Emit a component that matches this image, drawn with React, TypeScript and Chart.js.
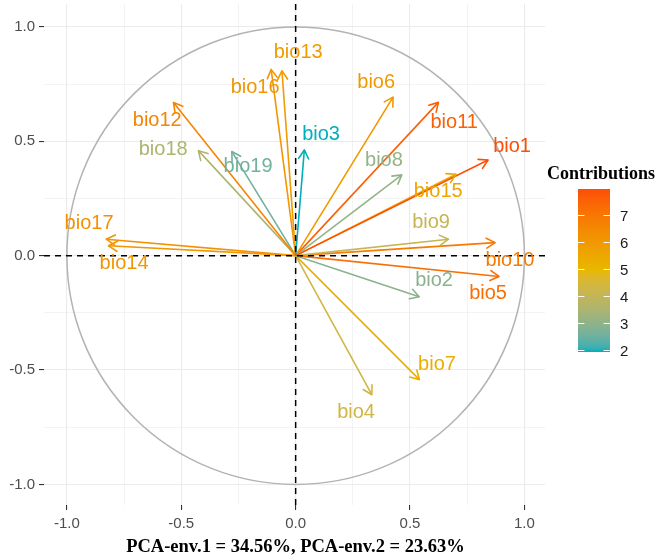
import React, { useEffect, useRef } from 'react';
import { Chart, registerables } from 'chart.js';

Chart.register(...registerables);

// ---------------- data ----------------
const variables = ['bio1', 'bio2', 'bio3', 'bio4', 'bio5', 'bio6', 'bio7', 'bio8', 'bio9', 'bio10',
  'bio11', 'bio12', 'bio13', 'bio14', 'bio15', 'bio16', 'bio17', 'bio18', 'bio19'];
const dim1 = [0.841, 0.540, 0.038, 0.333, 0.889, 0.426, 0.541, 0.464, 0.668, 0.872,
  0.624, -0.534, -0.060, -0.818, 0.701, -0.107, -0.828, -0.425, -0.279];
const dim2 = [0.418, -0.180, 0.462, -0.608, -0.091, 0.693, -0.542, 0.353, 0.072, 0.057,
  0.670, 0.669, 0.808, 0.043, 0.356, 0.814, 0.072, 0.459, 0.455];
const contrib = [7.98, 2.93, 1.94, 4.35, 7.22, 5.99, 5.31, 3.08, 4.08, 6.91,
  7.58, 6.63, 5.94, 6.07, 5.59, 6.10, 6.25, 3.54, 2.58];
// label anchor positions (repelled), in data units
const labelX = [0.946, 0.605, 0.111, 0.264, 0.841, 0.352, 0.618, 0.386, 0.592, 0.937,
  0.693, -0.605, 0.011, -0.750, 0.623, -0.177, -0.903, -0.579, -0.208];
const labelY = [0.479, -0.110, 0.528, -0.686, -0.167, 0.759, -0.476, 0.418, 0.143, -0.023,
  0.584, 0.589, 0.886, -0.036, 0.279, 0.733, 0.139, 0.466, 0.388];

const gridValues = [-1, -0.75, -0.5, -0.25, 0, 0.25, 0.5, 0.75, 1];
const majorTicks = [-1, -0.5, 0, 0.5, 1];
const legendTicks = [2, 3, 4, 5, 6, 7];
const contribMin = 1.94;
const contribMax = 7.98;
const gradientColors = ['#00AFBB', '#E7B800', '#FC4E07'];
const axisTitle = 'PCA-env.1 = 34.56%, PCA-env.2 = 23.63%';
const legendTitle = 'Contributions';

// ---------------- colour helpers (CIELAB interpolation like ggplot) ----------------
function hexToRgb(h: string): number[] {
  const n = parseInt(h.slice(1), 16);
  return [(n >> 16) & 255, (n >> 8) & 255, n & 255];
}
function toLin(c: number) { c /= 255; return c <= 0.04045 ? c / 12.92 : Math.pow((c + 0.055) / 1.055, 2.4); }
function fromLin(c: number) {
  const v = c <= 0.0031308 ? 12.92 * c : 1.055 * Math.pow(c, 1 / 2.4) - 0.055;
  return Math.max(0, Math.min(255, Math.round(v * 255)));
}
function rgbToLab(rgb: number[]): number[] {
  const [r, g, b] = rgb.map(toLin);
  const X = (0.4124 * r + 0.3576 * g + 0.1805 * b) / 0.95047;
  const Y = (0.2126 * r + 0.7152 * g + 0.0722 * b);
  const Z = (0.0193 * r + 0.1192 * g + 0.9505 * b) / 1.08883;
  const f = (t: number) => (t > 0.008856 ? Math.cbrt(t) : 7.787 * t + 16 / 116);
  const fx = f(X), fy = f(Y), fz = f(Z);
  return [116 * fy - 16, 500 * (fx - fy), 200 * (fy - fz)];
}
function labToRgb(lab: number[]): number[] {
  const [L, a, bb] = lab;
  const fy = (L + 16) / 116, fx = fy + a / 500, fz = fy - bb / 200;
  const fi = (t: number) => (t * t * t > 0.008856 ? t * t * t : (t - 16 / 116) / 7.787);
  const X = fi(fx) * 0.95047, Y = fi(fy), Z = fi(fz) * 1.08883;
  const r = 3.2406 * X - 1.5372 * Y - 0.4986 * Z;
  const g = -0.9689 * X + 1.8758 * Y + 0.0415 * Z;
  const b = 0.0557 * X - 0.2040 * Y + 1.0570 * Z;
  return [fromLin(r), fromLin(g), fromLin(b)];
}
const labStops = gradientColors.map((c) => rgbToLab(hexToRgb(c)));
function colorFor(v: number): string {
  let t = (v - contribMin) / (contribMax - contribMin);
  t = Math.max(0, Math.min(1, t));
  const seg = t < 0.5 ? 0 : 1;
  const lt = t < 0.5 ? t / 0.5 : (t - 0.5) / 0.5;
  const a = labStops[seg], b = labStops[seg + 1];
  const lab = [0, 1, 2].map((k) => a[k] + (b[k] - a[k]) * lt);
  const [r, g, bl] = labToRgb(lab);
  return `rgb(${r},${g},${bl})`;
}

const isMajor = (v: number) => majorTicks.some((m) => Math.abs(m - v) < 1e-9);

// ---------------- plugin ----------------
const decorPlugin = {
  id: 'pcaDecor',
  beforeDatasetsDraw(chart: any) {
    const { ctx, scales } = chart;
    const xs = scales.x, ys = scales.y;
    const cx = xs.getPixelForValue(0), cy = ys.getPixelForValue(0);
    const rx = xs.getPixelForValue(1) - cx, ry = cy - ys.getPixelForValue(1);
    ctx.save();
    ctx.beginPath();
    ctx.ellipse(cx, cy, rx, ry, 0, 0, Math.PI * 2);
    ctx.strokeStyle = '#B3B3B3';
    ctx.lineWidth = 1.5;
    ctx.stroke();
    ctx.restore();
  },
  afterDatasetsDraw(chart: any) {
    const { ctx, chartArea, scales } = chart;
    const xs = scales.x, ys = scales.y;
    const cx = xs.getPixelForValue(0), cy = ys.getPixelForValue(0);
    ctx.save();
    // arrowheads
    chart.data.datasets.forEach((ds: any, i: number) => {
      const px = xs.getPixelForValue(dim1[i]);
      const py = ys.getPixelForValue(dim2[i]);
      const ang = Math.atan2(py - cy, px - cx);
      const len = 10, a = Math.PI / 6;
      ctx.beginPath();
      ctx.moveTo(px - len * Math.cos(ang - a), py - len * Math.sin(ang - a));
      ctx.lineTo(px, py);
      ctx.lineTo(px - len * Math.cos(ang + a), py - len * Math.sin(ang + a));
      ctx.strokeStyle = ds.borderColor;
      ctx.lineWidth = 1.6;
      ctx.lineCap = 'round';
      ctx.lineJoin = 'round';
      ctx.stroke();
    });
    // dashed zero lines
    ctx.setLineDash([6, 5]);
    ctx.strokeStyle = '#000';
    ctx.lineWidth = 1.5;
    ctx.lineCap = 'butt';
    ctx.beginPath();
    ctx.moveTo(chartArea.left, cy);
    ctx.lineTo(chartArea.right, cy);
    ctx.moveTo(cx, chartArea.top);
    ctx.lineTo(cx, chartArea.bottom);
    ctx.stroke();
    ctx.setLineDash([]);
    // labels
    ctx.font = '20px "Liberation Sans", Arial, sans-serif';
    ctx.textAlign = 'center';
    ctx.textBaseline = 'middle';
    variables.forEach((v, i) => {
      ctx.fillStyle = chart.data.datasets[i].borderColor;
      ctx.fillText(v, xs.getPixelForValue(labelX[i]), ys.getPixelForValue(labelY[i]));
    });
    ctx.restore();
  },
  afterDraw(chart: any) {
    const { ctx, chartArea } = chart;
    ctx.save();
    // x axis title
    ctx.font = 'bold 18.5px "Liberation Serif", "Times New Roman", serif';
    ctx.fillStyle = '#000';
    ctx.textAlign = 'center';
    ctx.textBaseline = 'middle';
    ctx.fillText(axisTitle, (chartArea.left + chartArea.right) / 2 + 1, 547);
    // legend
    const barL = 578, barR = 610, barT = 189, barB = 352;
    const valToY = (v: number) => barB - ((v - contribMin) / (contribMax - contribMin)) * (barB - barT);
    const grad = ctx.createLinearGradient(0, barB, 0, barT);
    for (let k = 0; k <= 40; k++) {
      const t = k / 40;
      grad.addColorStop(t, colorFor(contribMin + t * (contribMax - contribMin)));
    }
    ctx.fillStyle = grad;
    ctx.fillRect(barL, barT, barR - barL, barB - barT);
    ctx.strokeStyle = '#FFFFFF';
    ctx.lineWidth = 1;
    const tl = (barR - barL) / 5;
    ctx.font = '15px "Liberation Sans", Arial, sans-serif';
    ctx.textAlign = 'left';
    ctx.textBaseline = 'middle';
    legendTicks.forEach((v) => {
      const y = Math.round(valToY(v)) + 0.5;
      ctx.beginPath();
      ctx.moveTo(barL, y); ctx.lineTo(barL + tl, y);
      ctx.moveTo(barR - tl, y); ctx.lineTo(barR, y);
      ctx.stroke();
      ctx.fillStyle = '#1A1A1A';
      ctx.fillText(String(v), 620, valToY(v) + 1);
    });
    ctx.font = 'bold 18px "Liberation Serif", "Times New Roman", serif';
    ctx.fillStyle = '#000';
    ctx.fillText(legendTitle, 547, 174);
    ctx.restore();
  },
};

const gridWidth = (ctx: any) => (ctx.tick && isMajor(ctx.tick.value) ? 1.1 : 0.6);
const tickColor = (ctx: any) => (ctx.tick && isMajor(ctx.tick.value) ? '#333333' : 'rgba(0,0,0,0)');

export default function App() {
  const ref = useRef<HTMLCanvasElement>(null);
  useEffect(() => {
    if (!ref.current) return;
    const colors = contrib.map(colorFor);
    const chart = new Chart(ref.current, {
      type: 'scatter',
      data: {
        datasets: variables.map((v, i) => ({
          label: v,
          data: [{ x: 0, y: 0 }, { x: dim1[i], y: dim2[i] }],
          showLine: true,
          borderColor: colors[i],
          backgroundColor: colors[i],
          borderWidth: 1.6,
          pointRadius: 0,
          fill: false,
        })),
      },
      options: {
        animation: false,
        responsive: false,
        devicePixelRatio: 1,
        layout: { padding: { top: 4, right: 116, left: 0, bottom: 0 } },
        plugins: { legend: { display: false }, tooltip: { enabled: false } },
        scales: {
          x: {
            type: 'linear',
            min: -1.1,
            max: 1.09,
            afterBuildTicks: (s: any) => { s.ticks = gridValues.map((v) => ({ value: v })); },
            afterFit: (s: any) => { s.height = 55; s.paddingLeft = 0; s.paddingRight = 0; },
            border: { display: false },
            grid: { color: '#EBEBEB', lineWidth: gridWidth, tickColor, tickLength: 5, tickWidth: 1.1 },
            ticks: {
              autoSkip: false,
              maxRotation: 0,
              padding: 5,
              color: '#4D4D4D',
              font: { family: '"Liberation Sans", Arial, sans-serif', size: 15 },
              callback: (v: any) => (isMajor(Number(v)) ? Number(v).toFixed(1) : ''),
            },
          },
          y: {
            type: 'linear',
            min: -1.09,
            max: 1.1,
            afterBuildTicks: (s: any) => { s.ticks = gridValues.map((v) => ({ value: v })); },
            afterFit: (s: any) => { s.width = 44; s.paddingTop = 0; s.paddingBottom = 0; },
            border: { display: false },
            grid: { color: '#EBEBEB', lineWidth: gridWidth, tickColor, tickLength: 5, tickWidth: 1.1 },
            ticks: {
              autoSkip: false,
              padding: 4,
              color: '#4D4D4D',
              font: { family: '"Liberation Sans", Arial, sans-serif', size: 15 },
              callback: (v: any) => (isMajor(Number(v)) ? Number(v).toFixed(1) : ''),
            },
          },
        },
      },
      plugins: [decorPlugin],
    } as any);
    return () => chart.destroy();
  }, []);
  return (
    <div style={{ position: 'fixed', left: 0, top: 0, width: 661, height: 560, background: '#fff' }}>
      <canvas ref={ref} width={661} height={560} style={{ width: 661, height: 560, display: 'block' }} />
    </div>
  );
}
